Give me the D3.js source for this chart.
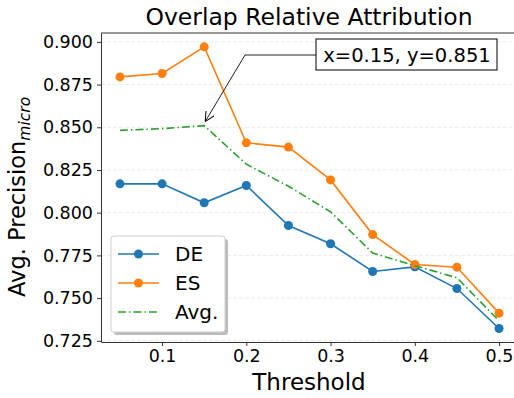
<!DOCTYPE html>
<html>
<head>
<meta charset="utf-8">
<script src="https://cdn.jsdelivr.net/npm/d3@7"></script>
<style>
  body { margin: 0; background: #fff; }
  svg { font-family: "DejaVu Sans", sans-serif; }
</style>
</head>
<body>
<div class="chart"></div>
<script>
var thresholds = [0.05, 0.1, 0.15, 0.2, 0.25, 0.3, 0.35, 0.4, 0.45, 0.5];
var deValues = [0.8169, 0.8169, 0.8058, 0.8159, 0.7925, 0.7818, 0.7656, 0.7683, 0.7556, 0.7322];
var esValues = [0.8795, 0.8815, 0.8971, 0.8409, 0.8384, 0.8192, 0.7872, 0.7697, 0.7681, 0.7412];
var avgValues = [0.8482, 0.8492, 0.851, 0.8284, 0.8155, 0.8005, 0.7764, 0.7690, 0.7619, 0.7367];
var xTicks = [0.1, 0.2, 0.3, 0.4, 0.5];
var yTicks = [0.725, 0.75, 0.775, 0.8, 0.825, 0.85, 0.875, 0.9];

var svgWidth = 514, svgHeight = 398;
var margin = { top: 33, left: 101, bottom: 56 };

var svg = d3.select(".chart").append("svg")
    .attr("width", svgWidth)
    .attr("height", svgHeight);

var x = d3.scaleLinear().domain([0.0275, 0.5225]).range([margin.left, 518]);
var y = d3.scaleLinear().domain([0.7243, 0.9052]).range([svgHeight - margin.bottom, margin.top]);

// grid
svg.append("g").selectAll("line")
    .data(yTicks)
    .enter().append("line")
    .attr("x1", margin.left).attr("x2", 518)
    .attr("y1", d => y(d)).attr("y2", d => y(d))
    .attr("stroke", "#e6e6e6")
    .attr("stroke-width", 0.8)
    .attr("stroke-dasharray", "4,2");

var xAxis = svg.append("g")
    .attr("transform", `translate(0, ${y.range()[0]})`)
    .call(d3.axisBottom(x).tickValues(xTicks).tickFormat(d3.format("")).tickSize(4).tickPadding(4).tickSizeOuter(0));
var yAxis = svg.append("g")
    .attr("transform", `translate(${margin.left}, 0)`)
    .call(d3.axisLeft(y).tickValues(yTicks).tickFormat(d3.format(".3f")).tickSize(4).tickPadding(4).tickSizeOuter(0));

[xAxis, yAxis].forEach(function(a) {
    a.selectAll("text").attr("font-size", 17.5).attr("fill", "#000").attr("font-family", "DejaVu Sans");
    a.selectAll("line").attr("stroke", "#333");
    a.select(".domain").attr("stroke", "#333");
});

// top spine
svg.append("line").attr("x1", margin.left).attr("x2", 518)
    .attr("y1", margin.top).attr("y2", margin.top).attr("stroke", "#333");

function drawSeries(vals, color, dashed, markers) {
    var line = d3.line().x((d, i) => x(thresholds[i])).y(d => y(d));
    svg.append("path")
        .datum(vals)
        .attr("d", line)
        .attr("fill", "none")
        .attr("stroke", color)
        .attr("stroke-width", 1.6)
        .attr("stroke-dasharray", dashed ? "8,3,1.5,3" : null);
    if (markers) {
        svg.append("g").selectAll("circle")
            .data(vals)
            .enter().append("circle")
            .attr("cx", (d, i) => x(thresholds[i]))
            .attr("cy", d => y(d))
            .attr("r", 4.5)
            .attr("fill", color);
    }
}
drawSeries(deValues, "#1f77b4", false, true);
drawSeries(esValues, "#ff7f0e", false, true);
drawSeries(avgValues, "#2ca02c", true, false);

// title and labels
svg.append("text").attr("x", 309).attr("y", 25).attr("text-anchor", "middle")
    .attr("font-size", 23.5).text("Overlap Relative Attribution");
svg.append("text").attr("x", 309).attr("y", 390).attr("text-anchor", "middle")
    .attr("font-size", 23).text("Threshold");
var ylab = svg.append("text")
    .attr("transform", "translate(25, 297) rotate(-90)")
    .attr("text-anchor", "start")
    .attr("font-size", 22.5);
ylab.append("tspan").text("Avg. Precision");
ylab.append("tspan").attr("font-style", "italic").attr("font-size", 15.5).attr("dy", 5).text("micro");

// annotation
var pi = 2;
var ax = x(thresholds[pi]), ay = y(avgValues[pi]);
svg.append("defs").append("marker")
    .attr("id", "arr").attr("viewBox", "0 0 10 10").attr("refX", 10).attr("refY", 5)
    .attr("markerWidth", 10).attr("markerHeight", 10).attr("markerUnits", "userSpaceOnUse")
    .attr("orient", "auto")
    .append("path").attr("d", "M0,0 L10,5 L0,10").attr("fill", "none").attr("stroke", "#000").attr("stroke-width", 1);
svg.append("path")
    .attr("d", `M316,55 L245,55 L${ax + 1},${ay - 4}`)
    .attr("fill", "none").attr("stroke", "#222").attr("stroke-width", 1)
    .attr("marker-end", "url(#arr)");
svg.append("rect").attr("x", 316).attr("y", 39).attr("width", 181).attr("height", 31)
    .attr("fill", "#fff").attr("stroke", "#000").attr("stroke-width", 1);
svg.append("text").attr("x", 407).attr("y", 62).attr("text-anchor", "middle")
    .attr("font-size", 19.5).text(`x=${thresholds[pi]}, y=${avgValues[pi].toFixed(3)}`);

// legend
var lg = svg.append("g");
lg.append("rect").attr("x", 114).attr("y", 239).attr("width", 114).attr("height", 96)
    .attr("rx", 3).attr("fill", "#bbb");
lg.append("rect").attr("x", 111).attr("y", 236).attr("width", 114).attr("height", 96)
    .attr("rx", 3).attr("fill", "#fff").attr("stroke", "#d0d0d0");
var items = [
    { name: "DE", color: "#1f77b4", dashed: false },
    { name: "ES", color: "#ff7f0e", dashed: false },
    { name: "Avg.", color: "#2ca02c", dashed: true }
];
items.forEach(function(it, i) {
    var yy = 254 + i * 29;
    lg.append("line").attr("x1", 118).attr("x2", 159).attr("y1", yy).attr("y2", yy)
        .attr("stroke", it.color).attr("stroke-width", 1.6)
        .attr("stroke-dasharray", it.dashed ? "8,3,1.5,3" : null);
    if (!it.dashed) {
        lg.append("circle").attr("cx", 138.5).attr("cy", yy).attr("r", 4.5).attr("fill", it.color);
    }
    lg.append("text").attr("x", 175).attr("y", yy + 7).attr("font-size", 20).text(it.name);
});
</script>
</body>
</html>
